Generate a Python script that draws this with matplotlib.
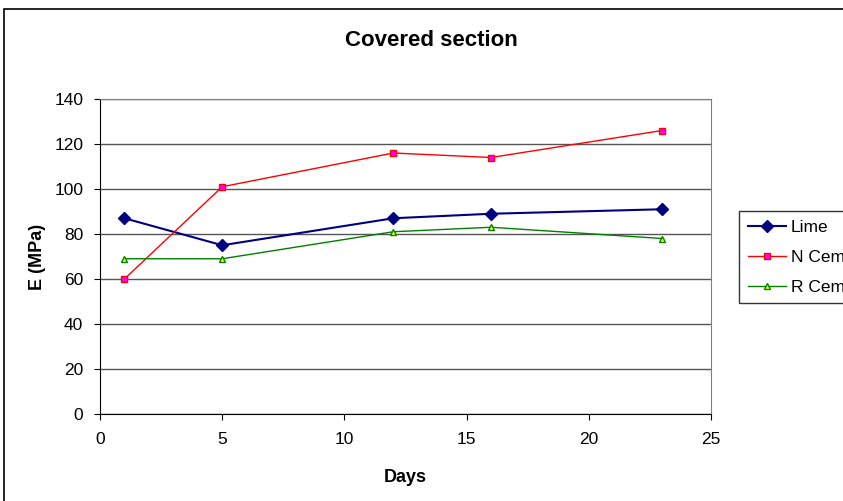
import matplotlib.pyplot as plt
from matplotlib.patches import Rectangle

days = [1, 5, 12, 16, 23]
lime = [87, 75, 87, 89, 91]
n_cem = [60, 101, 116, 114, 126]
r_cem = [69, 69, 81, 83, 78]

plt.rcParams['font.family'] = ['Liberation Sans', 'DejaVu Sans']

fig = plt.figure(figsize=(8.43, 5.01), dpi=100)
ax = fig.add_axes([100 / 843, 1 - 414 / 501, 611 / 843, 315 / 501])

# outer chart border (cut by the image edge on the right and bottom)
fig.patches.append(Rectangle((4 / 843, -0.05), 1.2, 1 - 9 / 501 + 0.05,
                             transform=fig.transFigure, fill=False,
                             edgecolor='black', linewidth=1.2))

ax.plot(days, lime, color='#000080', marker='D', markersize=6, linewidth=1.5,
        label='Lime')
ax.plot(days, n_cem, color='#ff0000', marker='s', markersize=4, linewidth=1,
        markerfacecolor='#ff00ff', markeredgecolor='#ff0000', label='N Cem')
ax.plot(days, r_cem, color='#008000', marker='^', markersize=5, linewidth=1,
        markerfacecolor='#ffff00', markeredgecolor='#008000', label='R Cem')

ax.set_xlim(0, 25)
ax.set_ylim(0, 140)
ax.set_xticks(range(0, 26, 5))
ax.set_yticks(range(0, 141, 20))
ax.yaxis.grid(True, color='#555555', linewidth=1)
ax.set_axisbelow(True)
for s in ax.spines.values():
    s.set_color('#808080')
ax.spines['bottom'].set_color('black')
ax.spines['left'].set_color('black')
ax.tick_params(labelsize=12.5, length=4, direction='out')
ax.tick_params(axis='x', pad=9)
ax.tick_params(axis='y', pad=8)

fig.text(431 / 843, 1 - 40 / 501, 'Covered section', fontsize=16,
         fontweight='bold', ha='center', va='center')
ax.set_xlabel('Days', fontsize=13, fontweight='bold', labelpad=16)
ax.set_ylabel('E (MPa)', fontsize=13, fontweight='bold', labelpad=6)

leg = fig.legend(loc='upper left', bbox_to_anchor=(739 / 843, 1 - 211 / 501),
                 fontsize=12.5, frameon=True, fancybox=False, edgecolor='black',
                 handlelength=2.2, borderpad=0.5, labelspacing=0.85,
                 handletextpad=0.3, borderaxespad=0)
leg.get_frame().set_linewidth(1)

fig.savefig('out.png', dpi=100)
